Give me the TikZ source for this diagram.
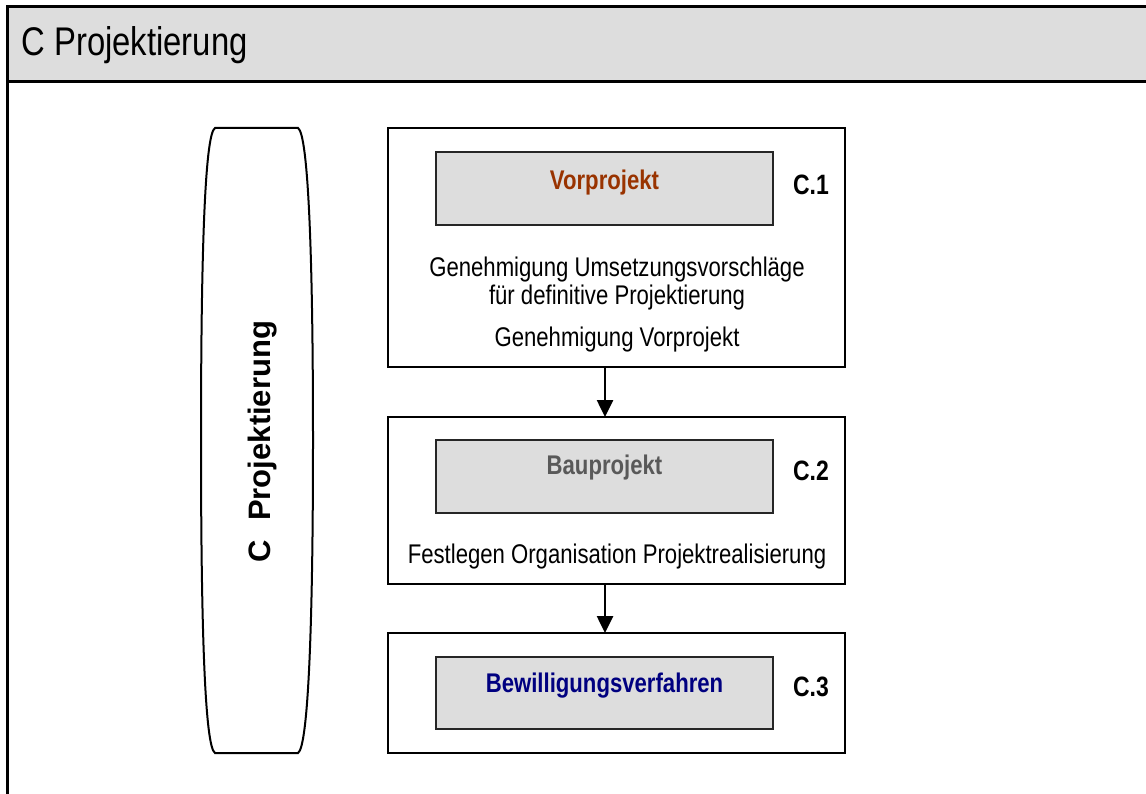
\documentclass[tikz,border=0pt]{standalone}
\usepackage{fontspec}
\setmainfont[FakeStretch=0.82]{Liberation Sans}
\newfontfamily\widefont{Liberation Sans}
\usetikzlibrary{arrows.meta}
\definecolor{hdrgray}{HTML}{DDDDDD}
\definecolor{boxgray}{HTML}{DDDDDD}
\definecolor{vorbrown}{HTML}{993300}
\definecolor{baugray}{HTML}{595959}
\definecolor{bewnavy}{HTML}{000080}
\tikzset{
  outerbox/.style={draw=black, line width=1.8pt, fill=white},
  innerbox/.style={draw=black!85, line width=1.5pt, fill=boxgray},
  boxtitle/.style={font=\fontsize{27}{32}\selectfont\bfseries},
  clabel/.style={font=\fontsize{28}{32}\selectfont\bfseries},
  bodytext/.style={font=\fontsize{27}{32}\selectfont, align=center},
  flowarrow/.style={-{Triangle[length=17pt,width=16pt]}, line width=2.6pt},
}
\begin{document}
\begin{tikzpicture}[x=1pt,y=-1pt]
\useasboundingbox (0,0) rectangle (1146,794);
% header
\fill[hdrgray] (7.5,6.5) rectangle (1146,82);
\draw[line width=3pt] (1146,6.5) -- (7.5,6.5) -- (7.5,794);
\draw[line width=3pt] (7.5,82) -- (1146,82);
\node[anchor=west, font=\fontsize{40}{46}\selectfont] (title) at (18,45) {C Projektierung};
% pill
\draw[line width=2pt] (215,128) -- (298,128)
  .. controls (308,134) and (313,250) .. (313,440)
  .. controls (313,630) and (308,747) .. (298,753)
  -- (215,753)
  .. controls (205,747) and (201,630) .. (201,440)
  .. controls (201,250) and (205,134) .. (215,128) -- cycle;
\node[rotate=90, font=\widefont\fontsize{31}{36}\selectfont\bfseries] (vlabel) at (263,441.5) {C\hspace{19pt}Projektierung};
% box 1
\path[outerbox] (388,128) rectangle (845,367);
\node[inner sep=0, minimum width=457pt, minimum height=239pt] (b1) at (616.5,247.5) {};
\path[innerbox] (436,152) rectangle (773,225);
\node[boxtitle, text=vorbrown] (t1) at (604.5,183) {Vorprojekt};
\node[clabel] (c1) at (811,185) {C.1};
\node[bodytext] (g1) at (617,270) {Genehmigung Umsetzungsvorschläge};
\node[bodytext] (g2) at (617,298) {für definitive Projektierung};
\node[bodytext] (g3) at (617,340) {Genehmigung Vorprojekt};
% box 2
\path[outerbox] (388,417) rectangle (845,584);
\node[inner sep=0, minimum width=457pt, minimum height=167pt] (b2) at (616.5,500.5) {};
\path[innerbox] (436,440) rectangle (773,513);
\node[boxtitle, text=baugray] (t2) at (604.5,468) {Bauprojekt};
\node[clabel] (c2) at (811,471) {C.2};
\node[bodytext] (f1) at (617,557) {Festlegen Organisation Projektrealisierung};
% box 3
\path[outerbox] (388,633) rectangle (845,753);
\node[inner sep=0, minimum width=457pt, minimum height=120pt] (b3) at (616.5,693) {};
\path[innerbox] (436,657) rectangle (773,729);
\node[boxtitle, text=bewnavy] (t3) at (604.5,686) {Bewilligungsverfahren};
\node[clabel] (c3) at (811,687) {C.3};
% arrows
\coordinate (a1s) at (605,368);
\coordinate (a1e) at (605,417);
\coordinate (a2s) at (605,585);
\coordinate (a2e) at (605,633);
\draw[flowarrow] (a1s) -- (a1e);
\draw[flowarrow] (a2s) -- (a2e);
\end{tikzpicture}
\end{document}
